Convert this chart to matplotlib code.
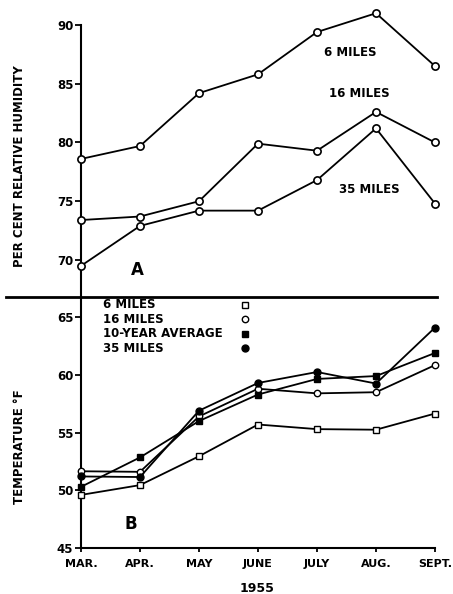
import matplotlib
matplotlib.use('Agg')
import matplotlib.pyplot as plt

months = ['MAR.', 'APR.', 'MAY', 'JUNE', 'JULY', 'AUG.', 'SEPT.']

# per cent relative humidity (panel A)
rh_6 = [78.6, 79.7, 84.2, 85.8, 89.4, 91.0, 86.5]
rh_16 = [73.4, 73.7, 75.0, 79.9, 79.3, 82.6, 80.0]
rh_35 = [69.5, 72.9, 74.2, 74.2, 76.8, 81.2, 74.8]

# temperature F (panel B)
temp_6 = [49.6, 50.45, 52.95, 55.7, 55.3, 55.25, 56.65]
temp_16 = [51.65, 51.6, 56.4, 58.8, 58.4, 58.5, 60.85]
temp_avg = [50.3, 52.85, 56.0, 58.3, 59.65, 59.9, 61.9]
temp_35 = [51.2, 51.15, 56.9, 59.3, 60.25, 59.25, 64.1]

plt.rcParams['font.family'] = 'DejaVu Sans'
plt.rcParams['font.weight'] = 'bold'

fig = plt.figure(figsize=(4.53, 5.94), dpi=100)
W, H = 453.0, 594.0
x = list(range(len(months)))
# px -> month index: x=0 at 81px, 59px per month
xl = (-75 / 59.0, 6 + 2 / 59.0)

# ---- panel A ----
ax1 = fig.add_axes([6 / W, 1 - 297 / H, 431 / W, 292 / H])
ax1.set_xlim(*xl)
ax1.set_ylim(66.85, 91.7)
for s in ['top', 'right']:
    ax1.spines[s].set_visible(False)
ax1.spines['left'].set_position(('data', 0))
ax1.spines['left'].set_bounds(66.85, 90)
ax1.spines['left'].set_linewidth(1.5)
ax1.spines['bottom'].set_linewidth(2.0)
ax1.set_xticks([])
ax1.set_yticks([70, 75, 80, 85, 90])
ax1.tick_params(axis='y', direction='out', length=4, width=1.3, pad=1.5, labelsize=8.5)

for ys in [rh_6, rh_16, rh_35]:
    ax1.plot(x, ys, color='black', lw=1.3, marker='o', ms=5.2, mfc='white',
             mec='black', mew=1.2, clip_on=False, zorder=3)

ax1.text(4.56, 87.7, '6 MILES', ha='center', va='center', fontsize=8.5)
ax1.text(4.71, 84.2, '16 MILES', ha='center', va='center', fontsize=8.5)
ax1.text(4.88, 76.0, '35 MILES', ha='center', va='center', fontsize=8.5)
ax1.text(0.95, 69.15, 'A', ha='center', va='center', fontsize=12)

# ---- panel B ----
ax2 = fig.add_axes([6 / W, 1 - 548 / H, 431 / W, 251 / H])
ax2.patch.set_visible(False)
ax2.set_xlim(*xl)
ax2.set_ylim(45, 66.75)
for s in ['top', 'right']:
    ax2.spines[s].set_visible(False)
ax2.spines['left'].set_position(('data', 0))
ax2.spines['left'].set_linewidth(1.5)
ax2.spines['bottom'].set_bounds(0, 6)
ax2.spines['bottom'].set_linewidth(1.5)
ax2.set_yticks([45, 50, 55, 60, 65])
ax2.set_xticks(x)
ax2.set_xticklabels(months)
ax2.tick_params(axis='y', direction='out', length=4, width=1.3, pad=1.5, labelsize=8.5)
ax2.tick_params(axis='x', direction='out', length=3, width=1.3, pad=5, labelsize=8)

series = [
    ('6 MILES', temp_6, 's', 'white', 4.0),
    ('16 MILES', temp_16, 'o', 'white', 4.6),
    ('10-YEAR AVERAGE', temp_avg, 's', 'black', 4.6),
    ('35 MILES', temp_35, 'o', 'black', 5.0),
]
for label, ys, m, fc, ms in series:
    ax2.plot(x, ys, color='black', lw=1.3, marker=m, ms=ms, mfc=fc, mec='black',
             mew=1.0, clip_on=False, zorder=3)

# legend: text column then marker column
for i, (label, ys, m, fc, ms) in enumerate(series):
    yy = (548 - 305 - i * 14.4) / 251.0
    ax2.text(97 / 431.0, yy, label, transform=ax2.transAxes, ha='left', va='center',
             fontsize=8.5)
    ax2.plot([239 / 431.0], [yy], transform=ax2.transAxes, marker=m, ms=ms,
             mfc=fc, mec='black', mew=1.0, ls='none', clip_on=False)

ax2.text(0.85, 47.1, 'B', ha='center', va='center', fontsize=12)

fig.text(20 / W, 1 - 166 / H, 'PER CENT RELATIVE HUMIDITY', rotation=90,
         ha='center', va='center', fontsize=8.5)
fig.text(20 / W, 1 - 447 / H, 'TEMPERATURE °F', rotation=90,
         ha='center', va='center', fontsize=8.5)
fig.text(257 / W, 1 - 588 / H, '1955', ha='center', va='center', fontsize=9)

fig.savefig('out.png', dpi=100)
